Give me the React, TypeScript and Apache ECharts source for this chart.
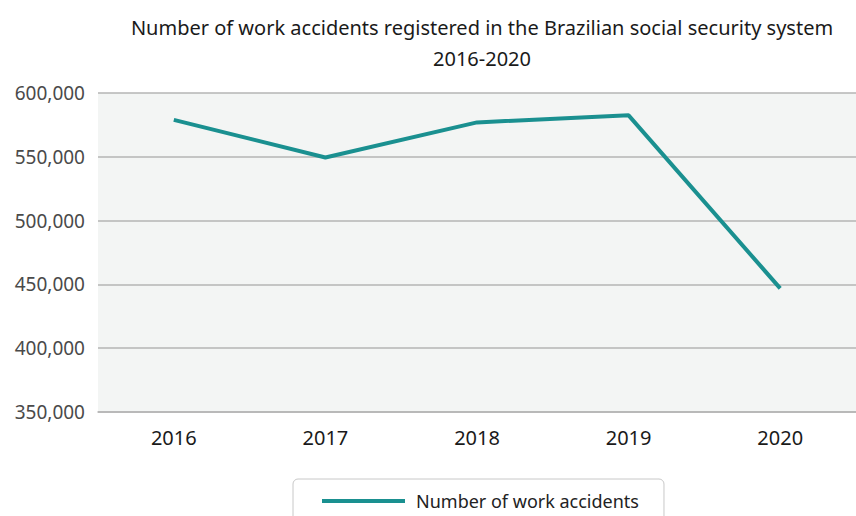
import React, { useEffect, useRef } from "react";
import * as echarts from "echarts";

const years = ["2016", "2017", "2018", "2019", "2020"];
const accidents = [578935, 549405, 576951, 582507, 446881];
const seriesName = "Number of work accidents";
const titleText = "Number of work accidents registered in the Brazilian social security system\n2016-2020";

export default function App() {
  const ref = useRef<HTMLDivElement>(null);
  useEffect(() => {
    if (!ref.current) return;
    const chart = echarts.init(ref.current, null, { renderer: "svg" });
    chart.setOption({
      animation: false,
      backgroundColor: "#ffffff",
      textStyle: { fontFamily: "Noto Sans" },
      title: {
        text: titleText,
        left: 477,
        textAlign: "center",
        top: 7,
        textStyle: {
          fontFamily: "Noto Sans",
          fontSize: 20,
          fontWeight: "normal",
          color: "#1a1a1a",
          lineHeight: 31,
        },
      },
      grid: {
        left: 98,
        right: 0,
        top: 93,
        bottom: 104,
        show: true,
        backgroundColor: "#f3f5f4",
        borderWidth: 0,
      },
      legend: {
        left: 293,
        top: 479,
        padding: [13, 25, 20, 29],
        borderColor: "#c8c8c8",
        borderWidth: 1,
        borderRadius: 5,
        icon: "rect",
        itemWidth: 83,
        itemHeight: 4,
        textStyle: {
          fontFamily: "Noto Sans",
          fontSize: 18,
          color: "#222",
          padding: [0, 0, 0, 6],
        },
        data: [seriesName],
      },
      xAxis: {
        type: "category",
        data: years,
        boundaryGap: true,
        axisLine: { show: true, lineStyle: { color: "#b5b5b5", width: 1.5 } },
        axisTick: { show: false },
        axisLabel: {
          fontFamily: "Noto Sans",
          fontSize: 20,
          color: "#1a1a1a",
          margin: 15,
        },
      },
      yAxis: {
        type: "value",
        min: 350000,
        max: 600000,
        interval: 50000,
        axisLine: { show: false },
        axisTick: { show: false },
        splitLine: { lineStyle: { color: "#b5b5b5", width: 1.5 } },
        axisLabel: {
          fontFamily: "Noto Sans",
          fontSize: 19,
          color: "#4a4a4a",
          margin: 13,
          formatter: (v: number) => v.toLocaleString("en-US"),
        },
      },
      series: [
        {
          name: seriesName,
          type: "line",
          data: accidents,
          symbol: "none",
          lineStyle: { color: "#1a9090", width: 4 },
          itemStyle: { color: "#1a9090" },
        },
      ],
    });
    return () => chart.dispose();
  }, []);
  return (
    <div
      ref={ref}
      style={{ position: "fixed", left: 0, top: 0, width: 856, height: 516 }}
    />
  );
}
